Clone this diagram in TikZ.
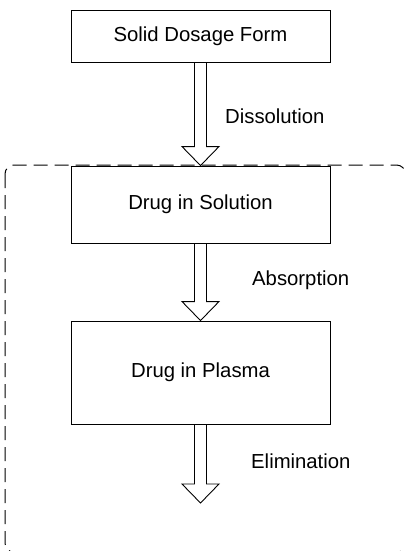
\documentclass[tikz,border=0pt]{standalone}
\usepackage{fontspec}
\setmainfont{Liberation Sans}
\usetikzlibrary{calc}
\tikzset{
  stage/.style={draw, line width=0.9pt, minimum width=259pt, inner sep=0pt, font=\fontsize{20.3}{24}\selectfont},
  steplabel/.style={anchor=west, inner sep=0pt, font=\fontsize{20.3}{24}\selectfont},
  hollow/.style={draw, line width=0.9pt, line join=miter},
  region/.style={draw, line width=1pt, dash pattern=on 14pt off 7pt, rounded corners=9pt}
}
% hollow block arrow from the bottom of one node to a target point
\newcommand{\blockarrow}[2]{%
  \draw[hollow] ($(#1)+(-6,0)$) -- ($(#2)+(-6,-19)$) -- ($(#2)+(-18.5,-19)$) -- (#2)
     -- ($(#2)+(18.5,-19)$) -- ($(#2)+(6,-19)$) -- ($(#1)+(6,0)$);}
\begin{document}
\begin{tikzpicture}[x=1pt, y=-1pt]
  \useasboundingbox (0,0) rectangle (404,551);
  \begin{scope}
    \clip (0,0) rectangle (404,551);
    \draw[region] (5,165) rectangle (405.5,552.2);
  \end{scope}

  \node[stage, minimum height=52pt]  (solid)    at (200.5,36)    {Solid Dosage Form};
  \node[stage, minimum height=77pt]  (solution) at (200.5,204.5) {Drug in Solution};
  \node[stage, minimum height=103pt] (plasma)   at (200.5,372.5) {Drug in Plasma};
  \coordinate (out) at (200.5,503);

  \blockarrow{solid.south}{solution.north}
  \blockarrow{solution.south}{plasma.north}
  \blockarrow{plasma.south}{out}

  \node[steplabel] (diss) at (225,116) {Dissolution};
  \node[steplabel] (abs)  at (252,280) {Absorption};
  \node[steplabel] (elim) at (251,461) {Elimination};
\end{tikzpicture}
\end{document}
